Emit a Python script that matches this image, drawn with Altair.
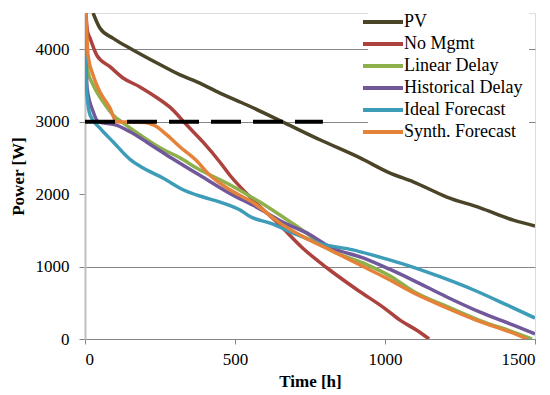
import altair as alt
import pandas as pd

series = ["PV", "No Mgmt", "Linear Delay", "Historical Delay", "Ideal Forecast", "Synth. Forecast"]
colors = ["#4A4529", "#AC423E", "#8DB04C", "#71589B", "#3D9DB8", "#E4823A"]

pv_t = [27, 50, 94, 160, 240, 317, 373, 450, 540, 667, 783, 917, 1017, 1094, 1206, 1317, 1428, 1500]
pv_p = [4500, 4290, 4150, 3990, 3810, 3645, 3550, 3395, 3230, 2980, 2750, 2500, 2290, 2170, 1960, 1810, 1640, 1560]

nm_t = [3, 8, 17, 39, 83, 128, 183, 240, 283, 340, 393, 450, 483, 560, 650, 727, 807, 907, 1000, 1050, 1106, 1147]
nm_p = [4500, 4250, 4150, 3920, 3760, 3600, 3480, 3330, 3200, 2950, 2720, 2440, 2260, 1920, 1570, 1250, 980, 680, 420, 260, 120, 0]

ld_t = [0, 4, 10, 27, 61, 94, 128, 183, 250, 317, 372, 483, 583, 661, 739, 817, 927, 1017, 1094, 1206, 1317, 1428, 1490]
ld_p = [4500, 4000, 3690, 3510, 3270, 3090, 2980, 2820, 2640, 2500, 2360, 2130, 1890, 1680, 1460, 1230, 1050, 870, 660, 450, 255, 95, 0]

hd_t = [0, 3, 7, 27, 44, 107, 150, 205, 272, 327, 383, 483, 572, 661, 750, 817, 927, 1017, 1094, 1206, 1317, 1428, 1500]
hd_p = [4500, 3900, 3460, 3140, 3000, 2950, 2860, 2720, 2540, 2400, 2260, 2010, 1820, 1610, 1440, 1270, 1120, 960, 810, 580, 370, 190, 70]

if_t = [0, 2, 5, 17, 50, 94, 150, 194, 261, 327, 393, 450, 517, 550, 617, 707, 783, 893, 1000, 1072, 1183, 1294, 1406, 1500]
if_p = [4500, 4000, 3460, 3090, 2910, 2720, 2480, 2360, 2220, 2060, 1960, 1890, 1780, 1690, 1600, 1440, 1320, 1230, 1110, 1020, 860, 680, 470, 290]

sf_t = [3, 10, 27, 50, 83, 105, 200, 235, 272, 317, 372, 411, 483, 561, 650, 728, 817, 927, 1000, 1094, 1206, 1317, 1428, 1473]
sf_p = [4500, 3920, 3640, 3410, 3190, 3000, 2990, 2940, 2820, 2650, 2460, 2280, 2060, 1880, 1600, 1410, 1230, 1000, 850, 640, 430, 240, 80, 0]

threshold_t = [0, 793]
threshold_p = 3000

y_ticks = [0, 500, 1000, 1500, 2000, 2500, 3000, 3500, 4000, 4500]
x_ticks = [0, 500, 1000, 1500]

times = [pv_t, nm_t, ld_t, hd_t, if_t, sf_t]
powers = [pv_p, nm_p, ld_p, hd_p, if_p, sf_p]
rows = []
for name, ts, ps in zip(series, times, powers):
    for i, (a, b) in enumerate(zip(ts, ps)):
        rows.append({"series": name, "t": a, "p": b, "idx": i})
df = pd.DataFrame(rows)

thr = pd.DataFrame({"t": [threshold_t[0]], "t2": [threshold_t[1]], "p": [threshold_p]})

FONT = "Liberation Serif"
GRID = "#868686"

x_scale = alt.Scale(domain=[0, 1500], nice=False, zero=False)
y_scale = alt.Scale(domain=[0, 4500], nice=False)

lines = alt.Chart(df).mark_line(strokeWidth=3.5, clip=True, interpolate="monotone").encode(
    x=alt.X("t:Q", scale=x_scale, axis=alt.Axis(
        values=x_ticks, format="d", title="Time [h]", grid=False,
        domainColor=GRID, domainWidth=1, tickColor=GRID, tickSize=5,
        labelFont=FONT, labelFontSize=17, labelColor="black", labelPadding=7,
        titleFont=FONT, titleFontSize=17, titleFontWeight="bold", titleColor="black",
        titleBaseline="alphabetic", titleY=47)),
    y=alt.Y("p:Q", scale=y_scale, axis=alt.Axis(
        values=y_ticks, format="d", title="Power [W]", grid=True, gridColor=GRID, gridWidth=1,
        gridOpacity=alt.condition("datum.value == 2000", alt.value(0), alt.value(1)),
        domainColor="#C0C0C0", domainWidth=2, tickColor=GRID, tickSize=6,
        labelFont=FONT, labelFontSize=17, labelColor="black", labelPadding=10,
        titleFont=FONT, titleFontSize=17, titleFontWeight="bold", titleColor="black",
        titleAngle=270, titleX=-67, titleY=163, titleAlign="center", titleBaseline="middle")),
    color=alt.Color("series:N", sort=series, scale=alt.Scale(domain=series, range=colors),
                    legend=alt.Legend(
                        title=None, orient="none", legendX=283, legendY=-6,
                        fillColor="white", padding=6,
                        symbolType="M-4,0H4", symbolSize=100, symbolStrokeWidth=4,
                        labelFont=FONT, labelFontSize=18, labelColor="black",
                        labelOffset=12, rowPadding=4)),
    order="idx:Q",
)

rule = alt.Chart(thr).mark_rule(color="black", strokeWidth=4, strokeDash=[30, 12]).encode(
    x=alt.X("t:Q", scale=x_scale),
    x2="t2:Q",
    y=alt.Y("p:Q", scale=y_scale),
)

chart = (lines + rule).properties(
    width=450, height=326,
    autosize=alt.AutoSizeParams(type="none"),
    padding={"left": 85, "top": 13, "right": 15, "bottom": 56},
).configure_view(stroke=None).configure(background="white")

chart.save("out.html", embed_options={"renderer": "svg", "actions": False})
